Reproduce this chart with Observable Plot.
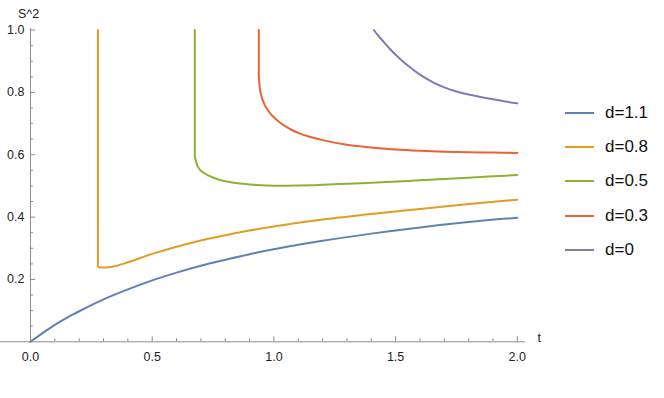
<!DOCTYPE html>
<html><head><meta charset="utf-8">
<script src="https://cdn.jsdelivr.net/npm/d3@7"></script>
<script src="https://cdn.jsdelivr.net/npm/@observablehq/plot@0.6"></script>
<style>
body{margin:0;background:#fff;font-family:"Liberation Sans",Arial,sans-serif;}
#wrap{position:relative;width:664px;height:398px;overflow:hidden;}
#legend{position:absolute;left:565px;top:96px;}
.row{display:flex;align-items:center;height:34.2px;font-size:17px;color:#111;}
.sw{width:29px;height:2px;margin-right:11px;}
</style></head><body><div id="wrap"><div id="legend"></div></div>
<script>
const seriesNames = ["d=1.1", "d=0.8", "d=0.5", "d=0.3", "d=0"];
const colors = ["#5E81B5", "#E19C24", "#8FB032", "#EB6235", "#8778B3"];

const tD11 = [0, 0.025, 0.05, 0.1, 0.15, 0.2, 0.3, 0.4, 0.5, 0.6, 0.7, 0.8, 0.9, 1.0, 1.2, 1.4, 1.6, 1.8, 2.0];
const sD11 = [0, 0.0143, 0.028, 0.054, 0.0775, 0.098, 0.136, 0.168, 0.197, 0.222, 0.244, 0.263, 0.281, 0.297, 0.324, 0.347, 0.367, 0.384, 0.398];

const tD08 = [0.277, 0.277, 0.277, 0.281, 0.29, 0.3, 0.32, 0.35, 0.4, 0.5, 0.6, 0.7, 0.8, 0.9, 1.0, 1.2, 1.4, 1.6, 1.8, 2.0];
const sD08 = [1.0, 0.26, 0.242, 0.2395, 0.2385, 0.238, 0.239, 0.243, 0.255, 0.282, 0.305, 0.325, 0.342, 0.357, 0.370, 0.392, 0.410, 0.426, 0.442, 0.456];

const tD05 = [0.675, 0.675, 0.675, 0.677, 0.68, 0.685, 0.692, 0.70, 0.71, 0.72, 0.735, 0.75, 0.775, 0.80, 0.85, 0.9, 0.95, 1.0, 1.05, 1.1, 1.2, 1.3, 1.4, 1.6, 1.8, 2.0];
const sD05 = [1.0, 0.615, 0.598, 0.588, 0.578, 0.566, 0.556, 0.549, 0.543, 0.538, 0.532, 0.527, 0.520, 0.515, 0.5085, 0.5045, 0.502, 0.5008, 0.5005, 0.501, 0.5035, 0.507, 0.5105, 0.518, 0.5265, 0.535];

const tD03 = [0.938, 0.938, 0.938, 0.939, 0.941, 0.945, 0.952, 0.96, 0.97, 0.98, 0.99, 1.0, 1.02, 1.04, 1.07, 1.1, 1.15, 1.2, 1.3, 1.4, 1.5, 1.6, 1.7, 1.8, 1.9, 2.0];
const sD03 = [1.0, 0.87, 0.854, 0.84, 0.82, 0.80, 0.78, 0.763, 0.749, 0.738, 0.728, 0.72, 0.706, 0.695, 0.681, 0.670, 0.657, 0.647, 0.632, 0.623, 0.617, 0.613, 0.610, 0.608, 0.607, 0.606];

const tD0 = [1.411, 1.42, 1.43, 1.45, 1.475, 1.5, 1.55, 1.6, 1.65, 1.7, 1.75, 1.8, 1.85, 1.9, 1.95, 2.0];
const sD0 = [1.0, 0.99, 0.981, 0.963, 0.941, 0.921, 0.886, 0.857, 0.834, 0.816, 0.803, 0.793, 0.785, 0.778, 0.771, 0.765];

const xMajor = [0, 0.5, 1.0, 1.5, 2.0];
const xMinor = [0.1, 0.2, 0.3, 0.4, 0.6, 0.7, 0.8, 0.9, 1.1, 1.2, 1.3, 1.4, 1.6, 1.7, 1.8, 1.9];
const yMajor = [0.2, 0.4, 0.6, 0.8, 1.0];
const yMinor = [0.05, 0.1, 0.15, 0.25, 0.3, 0.35, 0.45, 0.5, 0.55, 0.65, 0.7, 0.75, 0.85, 0.9, 0.95];
const xLabel = "t";
const yLabel = "S^2";

const seriesT = [tD11, tD08, tD05, tD03, tD0];
const seriesS = [sD11, sD08, sD05, sD03, sD0];
const data = [];
seriesNames.forEach((name, k) => seriesT[k].forEach((t, i) => data.push({name, t, s: seriesS[k][i]})));

const axisGray = "#8c8c8c";
const labelColor = "#222";

const plot = Plot.plot({
  width: 664, height: 398,
  marginLeft: 0, marginRight: 139, marginTop: 28, marginBottom: 56.7,
  x: {domain: [-0.1233, 2.0337], axis: null},
  y: {domain: [0, 1.005], axis: null},
  color: {domain: seriesNames, range: colors},
  style: {fontFamily: "'Liberation Sans', Arial, sans-serif", fontSize: "12.5px", background: "white", overflow: "visible"},
  marks: [
    Plot.ruleY([0], {stroke: axisGray, strokeWidth: 1}),
    Plot.ruleX([0], {stroke: axisGray, strokeWidth: 1}),
    Plot.ruleX(xMinor, {x: d => d, y1: 0, y2: 0, insetBottom: 3, stroke: axisGray}),
    Plot.ruleX(xMajor, {x: d => d, y1: 0, y2: 0, insetBottom: 5, stroke: axisGray}),
    Plot.ruleY(yMinor, {y: d => d, x1: 0, x2: 0, insetRight: -3, stroke: axisGray}),
    Plot.ruleY(yMajor, {y: d => d, x1: 0, x2: 0, insetRight: -5, stroke: axisGray}),
    Plot.text(xMajor, {x: d => d, y: 0, text: d => d.toFixed(1), dy: 15, fill: labelColor}),
    Plot.text(yMajor, {x: 0, y: d => d, text: d => d.toFixed(1), dx: -6, textAnchor: "end", fill: labelColor}),
    Plot.text([xLabel], {frameAnchor: "bottom-right", dx: 12, textAnchor: "start", fill: labelColor}),
    Plot.text([yLabel], {x: 0, y: 1.005, dx: -2, dy: -14.5, fill: labelColor}),
    Plot.line(data, {x: "t", y: "s", z: "name", stroke: "name", strokeWidth: 2, curve: "catmull-rom"})
  ]
});
document.getElementById("wrap").prepend(plot);

const legend = document.getElementById("legend");
seriesNames.forEach((name, k) => {
  const row = document.createElement("div");
  row.className = "row";
  const sw = document.createElement("span");
  sw.className = "sw";
  sw.style.background = colors[k];
  const lab = document.createElement("span");
  lab.textContent = name;
  row.append(sw, lab);
  legend.append(row);
});
</script>
</body></html>
